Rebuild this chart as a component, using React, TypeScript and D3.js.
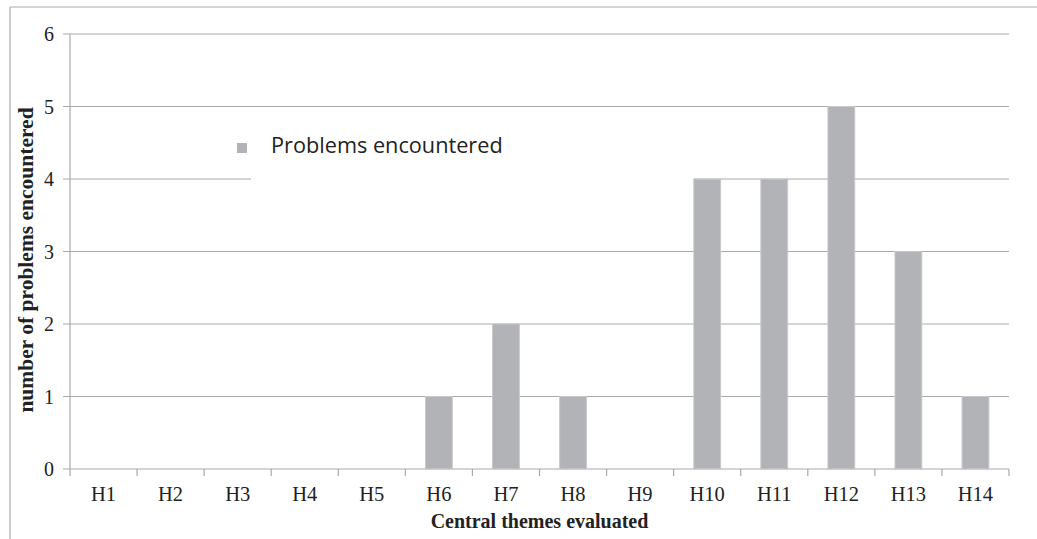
import React from 'react';
import * as d3 from 'd3';

const categories = ['H1', 'H2', 'H3', 'H4', 'H5', 'H6', 'H7', 'H8', 'H9', 'H10', 'H11', 'H12', 'H13', 'H14'];
const problems = [0, 0, 0, 0, 0, 1, 2, 1, 0, 4, 4, 5, 3, 1];
const yTicks = [0, 1, 2, 3, 4, 5, 6];
const seriesName = 'Problems encountered';

const W = 1037;
const H = 539;
const plot = { left: 70, right: 1009, top: 34, bottom: 469 };

const App = () => {
  const x = d3.scaleBand().domain(categories).range([plot.left, plot.right]).paddingInner(0.6).paddingOuter(0.3);
  const xb = d3.scaleBand().domain(categories).range([plot.left, plot.right]);
  const y = d3.scaleLinear().domain([0, 6]).range([plot.bottom, plot.top]);
  const grid = '#a9a9a9';
  const serif = '"Liberation Serif", "Times New Roman", serif';

  return (
    <svg width={W} height={H} style={{ position: 'absolute', left: 0, top: 0 }}>
      <rect x={0} y={0} width={W} height={H} fill="#fff" />
      {/* outer frame */}
      <line x1={10} x2={W} y1={7} y2={7} stroke={grid} strokeWidth={1.2} />
      <line x1={10} x2={10} y1={7} y2={H} stroke={grid} strokeWidth={1.2} />

      {/* gridlines */}
      {yTicks.map((t) => (
        <g key={t}>
          <line x1={plot.left - 7} x2={plot.right} y1={y(t)} y2={y(t)} stroke={grid} strokeWidth={1.2} />
          <text x={54} y={y(t)} dy="0.35em" textAnchor="end" fontFamily={serif} fontSize={20} fill="#222">
            {t}
          </text>
        </g>
      ))}
      <line x1={plot.left} x2={plot.left} y1={plot.top} y2={plot.bottom} stroke={grid} strokeWidth={1.2} />

      {/* legend box hides part of gridline 4 */}
      <rect x={251} y={118} width={443} height={64} fill="#fff" />
      <rect x={237} y={143} width={10} height={10} fill="#b2b3b7" />
      <text x={271} y={153} fontFamily='"Open Sans", sans-serif' fontSize={21.7} fill="#222">
        {seriesName}
      </text>

      {/* bars */}
      {categories.map((c, i) =>
        problems[i] > 0 ? (
          <rect
            key={c}
            x={x(c)}
            y={y(problems[i])}
            width={x.bandwidth()}
            height={y(0) - y(problems[i])}
            fill="#b2b3b7"
            stroke="#c8c9cc"
            strokeWidth={1}
          />
        ) : null
      )}

      {/* x ticks and labels */}
      {categories.map((c) => (
        <line key={'t' + c} x1={xb(c)} x2={xb(c)} y1={plot.bottom} y2={plot.bottom + 7} stroke={grid} strokeWidth={1.2} />
      ))}
      <line x1={plot.right} x2={plot.right} y1={plot.bottom} y2={plot.bottom + 7} stroke={grid} strokeWidth={1.2} />
      {categories.map((c) => (
        <text key={'l' + c} x={xb(c)! + xb.bandwidth() / 2} y={501} textAnchor="middle" fontFamily={serif} fontSize={20.5} fill="#222">
          {c}
        </text>
      ))}

      <text x={(plot.left + plot.right) / 2} y={528} textAnchor="middle" fontFamily={serif} fontWeight="bold" fontSize={20} fill="#222">
        Central themes evaluated
      </text>
      <text
        transform={`translate(33, 260) rotate(-90)`}
        textAnchor="middle"
        fontFamily={serif}
        fontWeight="bold"
        fontSize={21.5}
        fill="#222"
      >
        number of problems encountered
      </text>
    </svg>
  );
};

export default App;
